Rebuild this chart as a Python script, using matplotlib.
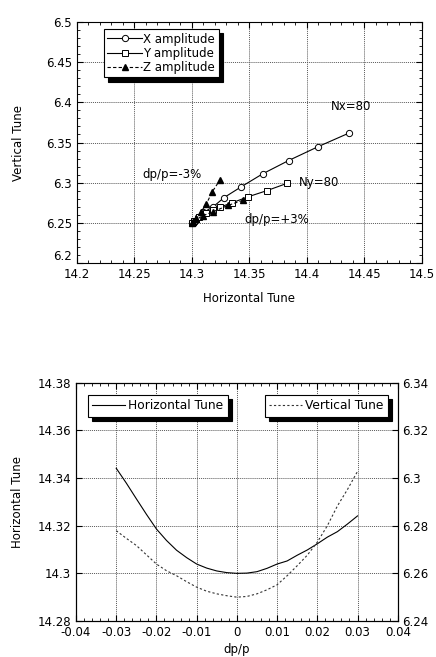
import numpy as np
import matplotlib
matplotlib.use("Agg")
import matplotlib.pyplot as plt
from matplotlib.ticker import MultipleLocator

# ==============================
# DATA
# ==============================
# tune shift with amplitude (top chart)
x_amp_h = [14.300, 14.302, 14.305, 14.310, 14.3185, 14.328, 14.343, 14.3615, 14.384, 14.410, 14.437]
x_amp_v = [6.250, 6.2525, 6.257, 6.263, 6.270, 6.2815, 6.295, 6.311, 6.3275, 6.345, 6.362]

y_amp_h = [14.300, 14.302, 14.306, 14.312, 14.3185, 14.324, 14.335, 14.349, 14.365, 14.383]
y_amp_v = [6.250, 6.2525, 6.257, 6.262, 6.266, 6.2694, 6.275, 6.2825, 6.290, 6.2993]

# chromaticity (bottom chart)
dpp = [-0.03, -0.0275, -0.025, -0.0225, -0.02, -0.0175, -0.015, -0.0125, -0.01,
       -0.0075, -0.005, -0.0025, 0.0, 0.0025, 0.005, 0.0075, 0.01, 0.0125,
       0.015, 0.0175, 0.02, 0.0225, 0.025, 0.0275, 0.03]
tune_h = [14.3441, 14.3379, 14.3313, 14.3248, 14.3186, 14.3138, 14.3097, 14.3066, 14.3039,
          14.3022, 14.3010, 14.3003, 14.3000, 14.3001, 14.3007, 14.3021, 14.3039, 14.3052,
          14.3076, 14.3098, 14.3124, 14.3152, 14.3175, 14.3207, 14.3241]
tune_v = [6.2779, 6.2747, 6.2717, 6.2678, 6.2639, 6.2611, 6.2590, 6.2565, 6.2542,
          6.2525, 6.2514, 6.2506, 6.2500, 6.2503, 6.2514, 6.2531, 6.2552, 6.2590,
          6.2632, 6.2676, 6.2731, 6.2800, 6.2883, 6.2952, 6.3028]

# Z amplitude = momentum scan, plotted every 0.005 in dp/p
z_amp_h = tune_h[::2]
z_amp_v = tune_v[::2]

FS = 8.5

# ==============================
# FIGURE
# ==============================
fig = plt.figure(figsize=(4.36, 6.57), dpi=100)

def style_axis(ax):
    ax.tick_params(which="both", direction="in", top=True, right=True, labelsize=FS)
    ax.tick_params(which="major", length=4)
    ax.tick_params(which="minor", length=2)
    ax.grid(True, which="major", linestyle=(0, (1, 1)), color="0.35", linewidth=0.7)
    for s in ax.spines.values():
        s.set_linewidth(0.8)

def boxed_legend(ax, **kw):
    leg = ax.legend(frameon=True, fancybox=False, framealpha=1, edgecolor="black",
                    shadow={"color": "black", "alpha": 1, "ox": 3, "oy": -3},
                    borderaxespad=0, **kw)
    leg.get_frame().set_linewidth(0.8)
    return leg

trim = plt.FuncFormatter(lambda v, p: "0" if abs(v) < 1e-9 else f"{v:.2f}".rstrip("0").rstrip("."))

# ---------- top chart ----------
ax1 = fig.add_axes([0.1766, 0.5997, 0.791, 0.3668])
ax1.plot(x_amp_h, x_amp_v, "k-", marker="o", mfc="white", mec="black",
         ms=4.5, mew=0.7, lw=0.8, label="X amplitude")
ax1.plot(y_amp_h, y_amp_v, "k-", marker="s", mfc="white", mec="black",
         ms=4.5, mew=0.7, lw=0.8, label="Y amplitude")
ax1.plot(z_amp_h, z_amp_v, "k", linestyle=(0, (3, 2)), marker="^", ms=4.5,
         lw=0.8, label="Z amplitude")

ax1.set_xlim(14.2, 14.5)
ax1.set_ylim(6.2, 6.5)
ax1.xaxis.set_major_locator(MultipleLocator(0.05))
ax1.xaxis.set_minor_locator(MultipleLocator(0.01))
ax1.yaxis.set_major_locator(MultipleLocator(0.05))
ax1.yaxis.set_minor_locator(MultipleLocator(0.01))
ax1.xaxis.set_major_formatter(trim)
ax1.yaxis.set_major_formatter(trim)
style_axis(ax1)
ax1.set_xlabel("Horizontal Tune", fontsize=FS, labelpad=8)
ax1.set_ylabel("Vertical Tune", fontsize=FS, labelpad=15)

ax1.text(14.421, 6.3945, "Nx=80", fontsize=FS, va="center")
ax1.text(14.393, 6.300, "Ny=80", fontsize=FS, va="center")
ax1.text(14.257, 6.3107, "dp/p=-3%", fontsize=FS, va="center")
ax1.text(14.3455, 6.2547, "dp/p=+3%", fontsize=FS, va="center")

boxed_legend(ax1, loc="upper left", bbox_to_anchor=(0.078, 0.971), fontsize=8.5,
             handlelength=2.9, handletextpad=0.15, labelspacing=0.1, borderpad=0.3)

# ---------- bottom chart ----------
ax2 = fig.add_axes([0.1743, 0.0548, 0.738, 0.3627])
ax3 = ax2.twinx()
ax2.plot(dpp, tune_h, "k-", lw=0.8, label="Horizontal Tune")
ax3.plot(dpp, tune_v, color="0.2", linestyle=(0, (2, 2)), lw=0.8, label="Vertical Tune")

ax2.set_xlim(-0.04, 0.04)
ax2.set_ylim(14.28, 14.38)
ax3.set_ylim(6.24, 6.34)
ax2.xaxis.set_major_locator(MultipleLocator(0.01))
ax2.xaxis.set_minor_locator(MultipleLocator(0.002))
ax2.yaxis.set_major_locator(MultipleLocator(0.02))
ax3.yaxis.set_major_locator(MultipleLocator(0.02))
ax2.xaxis.set_major_formatter(trim)
ax2.yaxis.set_major_formatter(trim)
ax3.yaxis.set_major_formatter(trim)
style_axis(ax2)
ax2.tick_params(right=False)
ax3.tick_params(which="both", direction="in", labelsize=FS, length=4)
ax2.set_xlabel("dp/p", fontsize=FS, labelpad=3)
ax2.set_ylabel("Horizontal Tune", fontsize=FS, labelpad=10)

boxed_legend(ax2, loc="upper left", bbox_to_anchor=(0.037, 0.948), fontsize=8.8,
             handlelength=2.7, handletextpad=0.25, borderpad=0.35)
boxed_legend(ax3, loc="upper right", bbox_to_anchor=(0.970, 0.948), fontsize=8.8,
             handlelength=2.7, handletextpad=0.25, borderpad=0.35)

# lowest y label of the top chart sits just above the corner, as in the original
fig.canvas.draw()
for t in ax1.yaxis.get_major_ticks():
    if abs(t.get_loc() - 6.2) < 1e-9:
        t.label1.set_verticalalignment("bottom")

fig.savefig("out.png", dpi=100)
